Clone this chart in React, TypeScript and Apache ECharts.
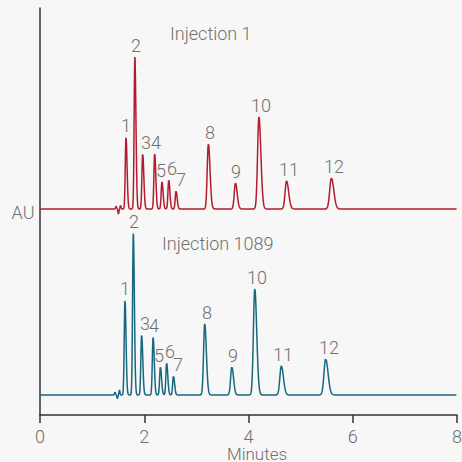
import React, { useEffect, useRef } from "react";
import * as echarts from "echarts";

// ---- data ----
const xTicks = [0, 2, 4, 6, 8];
const peakNames = ["1", "2", "3", "4", "5", "6", "7", "8", "9", "10", "11", "12"];

// Injection 1 (red), retention time (min), height (AU units)
const redTimes = [1.65, 1.82, 1.97, 2.2, 2.34, 2.47, 2.61, 3.23, 3.75, 4.2, 4.73, 5.59];
const redHeights = [72, 152, 55, 55, 27, 29, 18, 65, 26, 92, 28, 31];
const redBaseline = 206;

// Injection 1089 (teal)
const tealTimes = [1.63, 1.79, 1.95, 2.17, 2.31, 2.43, 2.56, 3.16, 3.68, 4.12, 4.63, 5.48];
const tealHeights = [95, 162, 60, 58, 28, 32, 19, 71, 28, 106, 29, 36];
const tealBaseline = 20;

// peak widths (sigma, minutes)
const peakWidths = [0.014, 0.014, 0.015, 0.015, 0.015, 0.015, 0.015, 0.022, 0.023, 0.026, 0.028, 0.032];

// injection disturbance before the first peak
const redDisturbTimes = [1.46, 1.505, 1.545];
const redDisturbHeights = [3, -5, 4];
const tealDisturbTimes = [1.44, 1.485, 1.525];
const tealDisturbHeights = [3, -4, 5];

const seriesNames = ["Injection 1", "Injection 1089"];
const xAxisTitle = "Minutes";
const yAxisTitle = "AU";

// ---- styles ----
const RED = "#b31b2c";
const TEAL = "#17687f";
const TEXT = "#707070";
const AXIS = "#333333";
const FONT = "Roboto";
const FS = 18;
const labelDx = [0, 1, 3, 1, -1, 3, 5, 2, 1, 2, 2, 3];

function buildCurve(
  times: number[],
  heights: number[],
  widths: number[],
  dTimes: number[],
  dHeights: number[],
  base: number
): number[][] {
  const pts: number[][] = [];
  for (let i = 0; i <= 2000; i++) {
    const t = i * 0.004;
    let y = base;
    for (let k = 0; k < times.length; k++) {
      const s = t < times[k] ? widths[k] : widths[k] * 1.45;
      const d = (t - times[k]) / s;
      y += heights[k] * Math.exp(-0.5 * d * d);
    }
    for (let k = 0; k < dTimes.length; k++) {
      const d = (t - dTimes[k]) / 0.009;
      y += dHeights[k] * Math.exp(-0.5 * d * d);
    }
    pts.push([t, y]);
  }
  return pts;
}

export default function App() {
  const ref = useRef<HTMLDivElement>(null);
  useEffect(() => {
    document.body.style.margin = "0";
    document.body.style.background = "#f7f7f7";
    const chart = echarts.init(ref.current!, undefined, { renderer: "svg" });
    const txt = { fill: TEXT, fontSize: FS, fontFamily: FONT, fontWeight: 300 };
    chart.setOption({
      animation: false,
      backgroundColor: "#f7f7f7",
      grid: { left: 40, right: 5, top: 8, bottom: 47, containLabel: false, outerBoundsMode: "none" },
      xAxis: {
        type: "value",
        min: xTicks[0],
        max: xTicks[xTicks.length - 1],
        interval: 2,
        axisLine: { show: true, lineStyle: { color: AXIS, width: 1.5 } },
        axisTick: { show: true, length: 8, lineStyle: { color: AXIS, width: 1.5 } },
        axisLabel: { color: TEXT, fontSize: 18, fontFamily: FONT, fontWeight: 300, margin: 12 },
        splitLine: { show: false },
      },
      yAxis: {
        type: "value",
        min: 0,
        max: 407,
        axisLine: { show: true, lineStyle: { color: AXIS, width: 1.5 } },
        axisTick: { show: false },
        axisLabel: { show: false },
        splitLine: { show: false },
      },
      series: [
        {
          name: seriesNames[0],
          type: "line",
          showSymbol: false,
          silent: true,
          data: buildCurve(redTimes, redHeights, peakWidths, redDisturbTimes, redDisturbHeights, redBaseline),
          lineStyle: { color: RED, width: 1.5 },
        },
        {
          name: seriesNames[1],
          type: "line",
          showSymbol: false,
          silent: true,
          data: buildCurve(tealTimes, tealHeights, peakWidths, tealDisturbTimes, tealDisturbHeights, tealBaseline),
          lineStyle: { color: TEAL, width: 1.5 },
        },
      ],
    });

    const peakLabels: any[] = [];
    const addLabels = (times: number[], heights: number[], base: number) => {
      times.forEach((t, i) => {
        const p = chart.convertToPixel({ gridIndex: 0 }, [t, base + heights[i]]) as number[];
        peakLabels.push({
          type: "text",
          x: Math.round(p[0] + labelDx[i]),
          y: Math.round(p[1] - 3),
          z: 10,
          silent: true,
          style: { ...txt, text: peakNames[i], align: "center", verticalAlign: "bottom" },
        });
      });
    };
    addLabels(redTimes, redHeights, redBaseline);
    addLabels(tealTimes, tealHeights, tealBaseline);

    chart.setOption({
      graphic: [
        { type: "text", x: 170, y: 33, style: { ...txt, text: seriesNames[0], verticalAlign: "middle" } },
        { type: "text", x: 162, y: 243, style: { ...txt, text: seriesNames[1], verticalAlign: "middle" } },
        { type: "text", x: 23, y: 212, style: { ...txt, text: yAxisTitle, align: "center", verticalAlign: "middle" } },
        { type: "text", x: 257, y: 453.5, style: { ...txt, fontSize: 17, text: xAxisTitle, align: "center", verticalAlign: "middle" } },
        ...peakLabels,
      ],
    });
    return () => chart.dispose();
  }, []);
  return <div ref={ref} style={{ position: "absolute", left: 0, top: 0, width: 462, height: 462 }} />;
}
